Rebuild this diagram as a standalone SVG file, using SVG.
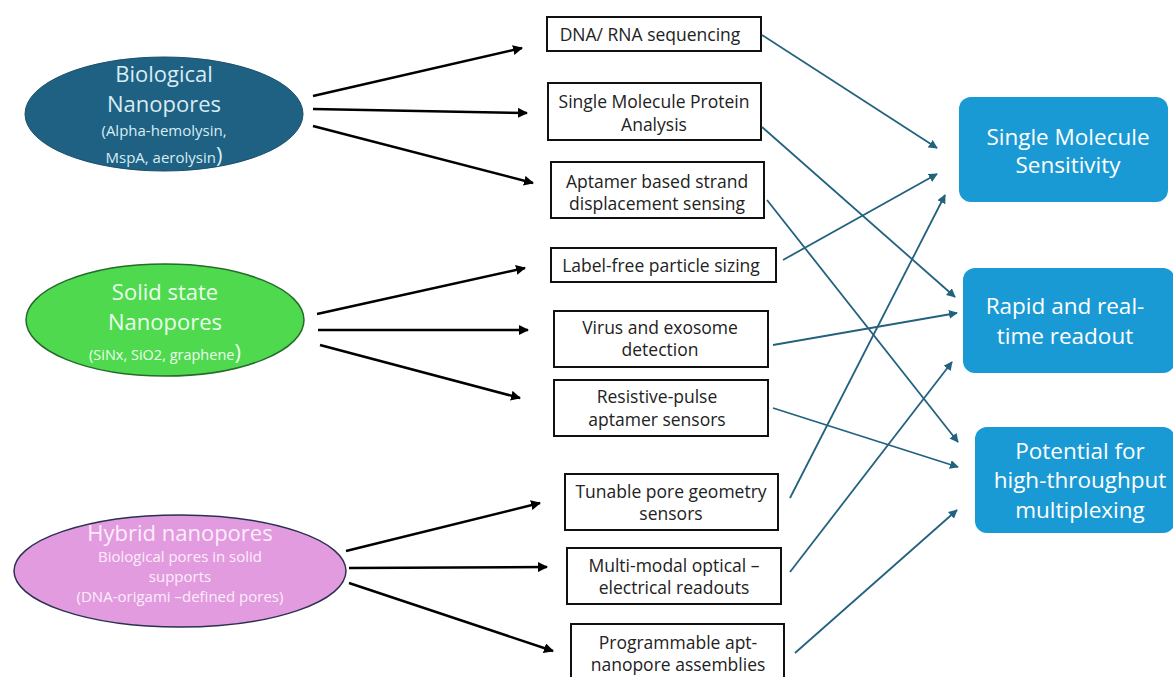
<svg xmlns="http://www.w3.org/2000/svg" width="1173" height="677" viewBox="0 0 1173 677">
<style>
.bx{fill:#fff;stroke:#111;stroke-width:2}
.bt{font-family:"Open Sans","Noto Sans",sans-serif;font-size:17.5px;fill:#222;text-anchor:middle}
.et{font-family:"Open Sans","Noto Sans",sans-serif;text-anchor:middle}
.ob{fill:#1a9ad4}
.ot{font-family:"Open Sans","Noto Sans",sans-serif;font-size:22.5px;fill:#fff;text-anchor:middle}
.ka{stroke:#000;stroke-width:2.5;fill:none;marker-end:url(#ka)}
.ba{stroke:#23627f;stroke-width:1.8;fill:none;marker-end:url(#ba)}
</style>
<defs>
<marker id="ka" viewBox="0 0 10 10" refX="9" refY="5" markerWidth="4" markerHeight="4" orient="auto" markerUnits="strokeWidth"><path d="M0,0 L10,5 L0,10 Z" fill="#000"/></marker>
<marker id="ba" viewBox="0 0 10 10" refX="9" refY="5" markerWidth="5" markerHeight="5" orient="auto" markerUnits="strokeWidth"><path d="M0,0 L10,5 L0,10 Z" fill="#23627f"/></marker>
</defs>
<rect width="1173" height="677" fill="#fff"/>

<g id="bio">
<ellipse cx="164" cy="114" rx="139" ry="57" fill="#1e6183" stroke="#1a4f6a" stroke-width="1"/>
<text class="et" x="164" y="82" font-size="22" fill="#d8ecf4">Biological</text>
<text class="et" x="164" y="112" font-size="22" fill="#d8ecf4">Nanopores</text>
<text class="et" x="164" y="136" font-size="15" fill="#d8ecf4">(Alpha-hemolysin,</text>
<text class="et" x="164" y="163" font-size="15" fill="#d8ecf4">MspA, aerolysin<tspan font-size="22">)</tspan></text>
</g>

<g id="solid">
<ellipse cx="165" cy="320" rx="139" ry="56" fill="#4fd94f" stroke="#256b2a" stroke-width="1.5"/>
<text class="et" x="165" y="300" font-size="22" fill="#eaffea">Solid state</text>
<text class="et" x="165" y="330" font-size="22" fill="#eaffea">Nanopores</text>
<text class="et" x="165" y="360" font-size="14.5" fill="#eaffea">(SiNx, SiO2, graphene<tspan font-size="22">)</tspan></text>
</g>

<g id="hybrid">
<ellipse cx="180" cy="571" rx="166" ry="56" fill="#e39be0" stroke="#2a3050" stroke-width="1.5"/>
<text class="et" x="180" y="541" font-size="22" fill="#fbeefb">Hybrid nanopores</text>
<text class="et" x="180" y="562" font-size="15" fill="#fbeefb">Biological pores in solid</text>
<text class="et" x="180" y="582" font-size="15" fill="#fbeefb">supports</text>
<text class="et" x="180" y="602" font-size="15" fill="#fbeefb">(DNA-origami –defined pores)</text>
</g>

<g id="b1"><rect class="bx" x="547" y="17" width="214" height="34"/><text class="bt" x="650" y="41">DNA/ RNA sequencing</text></g>
<g id="b2"><rect class="bx" x="548" y="83" width="213" height="57"/><text class="bt" x="654" y="108">Single Molecule Protein</text><text class="bt" x="654" y="131">Analysis</text></g>
<g id="b3"><rect class="bx" x="551" y="162" width="213" height="56"/><text class="bt" x="657" y="188">Aptamer based strand</text><text class="bt" x="657" y="210">displacement sensing</text></g>
<g id="b4"><rect class="bx" x="551" y="248" width="225" height="34"/><text class="bt" x="661" y="272">Label-free particle sizing</text></g>
<g id="b5"><rect class="bx" x="554" y="311" width="214" height="56"/><text class="bt" x="660" y="334">Virus and exosome</text><text class="bt" x="660" y="356">detection</text></g>
<g id="b6"><rect class="bx" x="554" y="380" width="214" height="56"/><text class="bt" x="657" y="403">Resistive-pulse</text><text class="bt" x="657" y="426">aptamer sensors</text></g>
<g id="b7"><rect class="bx" x="565" y="474" width="213" height="56"/><text class="bt" x="671" y="498">Tunable pore geometry</text><text class="bt" x="671" y="520">sensors</text></g>
<g id="b8"><rect class="bx" x="567" y="548" width="214" height="56"/><text class="bt" x="674" y="572">Multi-modal optical –</text><text class="bt" x="674" y="594">electrical readouts</text></g>
<g id="b9"><rect class="bx" x="571" y="624" width="213" height="62"/><text class="bt" x="678" y="649">Programmable apt-</text><text class="bt" x="678" y="671">nanopore assemblies</text></g>

<g id="o1"><rect class="ob" x="959" y="97" width="209" height="105" rx="12"/><text class="ot" x="1068" y="145">Single Molecule</text><text class="ot" x="1068" y="173">Sensitivity</text></g>
<g id="o2"><rect class="ob" x="963" y="268" width="212" height="105" rx="12"/><text class="ot" x="1065" y="314">Rapid and real-</text><text class="ot" x="1065" y="344">time readout</text></g>
<g id="o3"><rect class="ob" x="975" y="427" width="200" height="106" rx="12"/><text class="ot" x="1080" y="459">Potential for</text><text class="ot" x="1080" y="488">high-throughput</text><text class="ot" x="1080" y="518">multiplexing</text></g>

<g id="connectors">
<line class="ka" x1="313" y1="96" x2="522" y2="48"/>
<line class="ka" x1="313" y1="109" x2="527" y2="113"/>
<line class="ka" x1="313" y1="126" x2="533" y2="183"/>
<line class="ka" x1="317" y1="314" x2="525" y2="268"/>
<line class="ka" x1="318" y1="330" x2="528" y2="330"/>
<line class="ka" x1="320" y1="345" x2="520" y2="398"/>
<line class="ka" x1="346" y1="551" x2="540" y2="503"/>
<line class="ka" x1="349" y1="568" x2="547" y2="567"/>
<line class="ka" x1="349" y1="583" x2="553" y2="651"/>

<line class="ba" x1="762" y1="35" x2="937" y2="148"/>
<line class="ba" x1="762" y1="127" x2="955" y2="297"/>
<line class="ba" x1="767" y1="200" x2="958" y2="442"/>
<line class="ba" x1="783" y1="260" x2="937" y2="174"/>
<line class="ba" x1="773" y1="345" x2="957" y2="313"/>
<line class="ba" x1="773" y1="408" x2="958" y2="467"/>
<line class="ba" x1="790" y1="498" x2="945" y2="195"/>
<line class="ba" x1="790" y1="572" x2="952" y2="362"/>
<line class="ba" x1="795" y1="653" x2="957" y2="510"/>
</g>
</svg>
